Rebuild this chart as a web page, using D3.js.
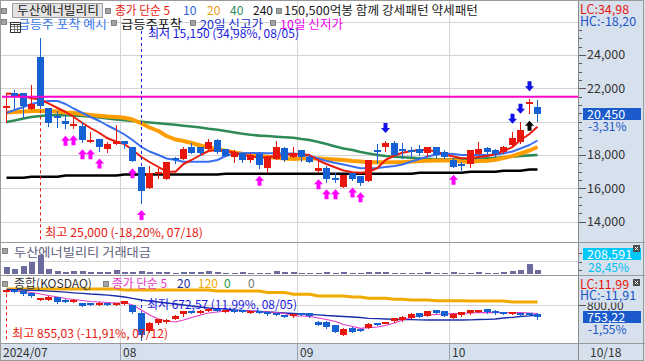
<!DOCTYPE html>
<html><head><meta charset="utf-8">
<script src="https://cdn.jsdelivr.net/npm/d3@7/dist/d3.min.js"></script>
<style>
html,body{margin:0;padding:0;background:#fff;}
svg{display:block;}
text{font-family:"Noto Sans CJK KR","Noto Sans",sans-serif;}
</style></head><body>
<svg id="chart" width="645" height="361"></svg>
<script>
// ---------------- DATA ----------------
const dates = ["07/12","07/15","07/16","07/17","07/18","07/19","07/22","07/23","07/24","07/25","07/26","07/29","07/30","07/31",
"08/01","08/02","08/05","08/06","08/07","08/08","08/09","08/12","08/13","08/14","08/16","08/19","08/20","08/21","08/22","08/23","08/26","08/27","08/28","08/29","08/30",
"09/02","09/03","09/04","09/05","09/06","09/09","09/10","09/11","09/12","09/13","09/19","09/20","09/23","09/24","09/25","09/26","09/27","09/30",
"10/02","10/04","10/07","10/08","10/10","10/11","10/14","10/15","10/16","10/17","10/18"];

const openP = [20840,21700,21700,20780,23860,20800,20360,20040,19760,19740,
18800,18960,18360,18640,18840,18500,17260,16000,16850,16560,
17760,17760,18500,18500,18380,18900,18360,17860,18100,17700,
18060,17240,17760,18400,17900,18300,17900,17060,17200,16580,
16100,16940,16740,16460,18260,18500,18700,18300,18240,18360,
18140,18460,18200,17700,17420,17460,18060,18400,18300,18160,
18600,18800,21100,20860];
const highP = [21700,21900,21750,22200,25000,20850,20650,20400,20240,20000,
19360,18960,18800,19800,18840,18500,17260,17340,17200,17600,
17900,18480,18740,18500,18960,18960,18360,18300,18100,18100,
18060,17900,18860,18500,18500,18300,18000,17740,17340,16900,
16800,16940,16740,17700,18660,18840,18840,18740,18480,18600,
18460,18500,18300,17800,17600,18300,18800,18460,18340,18540,
19400,20000,21340,21300];
const lowP = [19960,20800,20300,20780,20800,19750,19700,19600,19640,18800,
18800,18240,18160,18640,18400,17660,15150,16000,16600,16560,
17500,17760,18100,18000,18380,18150,17960,17600,17560,17560,
17200,17000,17760,17660,17900,17660,17600,17000,16400,16400,
16100,16500,16220,16460,17540,18260,18000,17800,17860,18000,
17960,17900,17800,17260,17100,17260,18060,18100,17960,18140,
18600,18740,20540,20060];
const closeP = [20880,21500,20960,21050,20960,19900,20200,19880,19880,18900,
18900,18500,18640,18840,18640,17660,15860,16900,16900,17600,
17740,18360,18140,18140,18800,18200,17960,18100,17700,18000,
17400,17900,18460,17700,18140,17860,17600,17240,16560,16540,
16800,16540,16340,17700,18200,18740,18000,18260,18200,18100,
18460,18000,17900,17300,17400,18300,18340,18180,18060,18460,
19040,19500,21150,20450];

const ma5 = [21692,21662,21542,21404,21332,21104,20822,20582,20300,19922,
19622,19322,19004,18800,18662,18302,17882,17582,17282,17000,
17000,17462,17702,18002,18242,18302,18242,18152,18002,17942,
17822,17882,17942,18002,18044,18044,18002,17672,17462,17252,
17072,16964,16940,16982,17222,17702,17972,18140,18242,18302,
18302,18212,18032,17912,17804,17822,17882,17942,18062,18242,
18482,18902,19262,19700];
const ma10 = [20522,20702,20882,21062,21182,21242,21242,21062,20792,20522,
20282,20042,19772,19502,19232,18902,18482,18212,18002,17792,
17702,17600,17600,17600,17600,17702,17942,18092,18104,18122,
18122,18104,18104,18092,18092,18032,17942,17792,17642,17522,
17432,17312,17204,17204,17222,17282,17342,17432,17612,17762,
17912,18032,18092,18062,18002,18002,18002,18002,18032,18092,
18212,18392,18602,18872];
const ma20 = [20552,20582,20612,20642,20642,20642,20612,20552,20522,20462,
20402,20360,20312,20282,20240,20132,19892,19652,19442,19142,
18932,18842,18722,18572,18452,18344,18254,18152,18074,18014,
17954,17894,17834,17792,17762,17792,17792,17792,17762,17732,
17702,17642,17612,17564,17564,17564,17564,17564,17612,17642,
17660,17672,17684,17672,17612,17600,17642,17660,17714,17822,
17942,18092,18272,18482];
const ma40 = [19982,20072,20192,20282,20342,20384,20402,20390,20372,20342,
20294,20252,20192,20132,20084,20042,20000,19952,19904,19862,
19814,19760,19712,19652,19580,19514,19442,19352,19280,19214,
19166,19142,19100,19064,19034,18962,18902,18782,18662,18512,
18392,18302,18182,18092,18002,17942,17900,17870,17834,17804,
17774,17750,17744,17744,17744,17750,17774,17804,17834,17870,
17900,17942,17978,18002];
const ma240 = [16634,16634,16634,16694,16694,16694,16694,16772,16772,16772,
16772,16772,16772,16772,16832,16832,16832,16832,16832,16832,
16832,16832,16832,16832,16832,16832,16874,16874,16874,16874,
16874,16874,16874,16874,16874,16874,16874,16874,16874,16874,
16874,16874,16874,16874,16874,16874,16874,16874,16874,16940,
16940,16940,16940,16940,16940,17000,17000,17000,17000,17060,
17060,17060,17132,17132];
const resistanceLevel = 21500;

const tradeValue = [333000,252000,366000,571000,890000,252000,143000,95000,128000,128000,
81000,81000,81000,176000,95000,95000,128000,110000,95000,95000,
70000,81000,95000,81000,128000,81000,62000,62000,81000,62000,
62000,62000,128000,95000,81000,62000,62000,70000,81000,62000,
81000,70000,62000,95000,81000,81000,62000,62000,62000,70000,
81000,70000,62000,81000,62000,62000,81000,70000,62000,81000,
128000,205000,462000,208591];

const kOpen = [847,850,848,842,820,818,826,818,810,805,
802,798,803,800,803,797,770,704,731,735,
749,764,772,770,778,784,774,777,779,770,
775,769,768,758,757,765,770,738,738,725,
690,716,708,716,729,733,740,743,752,769,
759,779,776,752,761,768,776,783,778,769,
770,768,766,767];
const kHigh = [855.03,852,850,844,823,830,828,820,820,806,
804,808,805,803,814,799,772,736,749,747,
762,776,776,780,786,786,780,779,780,777,
776,770,769,760,767,767,771,740,739,726,
714,717,711,731,732,737,751,757,768,770,
777,781,777,768,774,782,779,784,779,771,
773,770,768,768];
const kLow = [845,846,836,828,816,816,806,808,808,794,
799,797,800,798,801,771,672.57,700,729,732,
747,760,768,768,776,776,772,774,772,768,
768,762,761,754,755,762,756,725,716,699,
688,699,704,714,726,731,738,741,750,753,
757,768,757,750,759,766,774,771,767,766,
767,760,763,748];
const kClose = [850,848,838,830,821,828,808,810,818,795,
801,806,802,801,813,773,689,734,747,745,
760,775,770,778,784,778,779,776,774,775,
770,764,763,757,766,764,757,727,719,701,
712,701,707,730,728,734,750,756,767,755,
776,770,759,767,773,781,777,772,768,768,
771,761,765.08,753.22];
const kMa5 = [851.4,849.6,847.7,844.1,838.6,833.1,827.7,822.2,818.5,814.9,
811.2,809.4,807.6,805.8,807.6,798.5,780.2,762.0,747.4,740.1,
736.4,743.7,752.9,762.0,769.3,772.9,776.6,778.4,778.4,776.6,
774.7,772.9,771.1,767.5,758.3,758.3,757.2,751.0,745.6,738.3,
727.3,720.0,713.4,715.6,718.2,723.7,732.8,743.7,752.9,758.3,
762.0,763.8,765.6,766.7,767.5,769.3,770.4,770.4,770.4,770.4,
770.4,770.4,769.3,767.5];
const kMa20 = [855.0,854.3,853.2,852.1,850.7,848.8,847.0,845.2,843.0,841.2,
838.6,836.8,834.2,831.3,827.7,822.9,816.7,812.3,809.4,805.8,
802.1,798.5,794.8,791.2,787.5,785.0,783.1,781.0,779.1,776.6,
774.7,772.9,771.1,769.3,767.5,765.6,764.5,762.7,760.1,758.3,
756.5,754.7,752.9,749.9,748.4,747.4,746.3,745.6,744.8,744.5,
743.7,743.7,743.7,743.7,743.7,744.5,745.6,746.3,747.4,751.0,
753.6,756.5,759.0,762.0];
const kMa120 = [856.9,856.9,856.9,856.9,856.9,856.9,856.9,856.9,856.9,856.9,
856.9,856.9,856.9,856.9,853.2,853.2,853.2,853.2,853.2,853.2,
853.2,853.2,853.2,853.2,853.2,849.6,849.6,849.6,849.6,849.6,
849.6,844.1,844.1,844.1,837.5,837.5,837.5,831.3,831.3,831.3,
831.3,827.7,827.7,822.9,822.9,822.9,819.3,819.3,816.7,816.7,
816.7,814.2,814.2,814.2,814.2,813.1,813.1,813.1,813.1,813.1,
809.4,809.4,809.4,809.4];

const pinkUpDates = ["07/23","07/24","07/25","07/26","07/29","08/02","08/05","08/26","09/04","09/05","09/06","09/10","09/11","10/02"];
const blueDownDates = ["09/19","10/15","10/16","10/17"];
const blackUpDates = ["10/17"];

const monthStarts = ["08/01","09/02","10/02"];
const monthLabels = ["08","09","10"];
const firstLabel = "2024/07";
const lastDateLabel = "10/18";

const priceGrid = [14000,16000,18000,20000,22000,24000,26000];
const priceLabels = [14000,16000,18000,22000,24000];
const volGrid = [600000];
const kGrid = [800];
const kLabels = [800];
const volChangeText = "28,45%";

// ---------------- SETUP ----------------
const svg = d3.select("#chart");
const W = 645, H = 361, PR = 578;
const P_BOT = 242, V_BOT = 275, K_BOT = 343;
const RED = "#e8170d", BLUE = "#1560d2";
const FONT = 12;

const x = d3.scaleBand().domain(dates).range([1.8, 541.3]);
const cx = d => Math.round(x(d) + x.bandwidth() / 2);
const yP = d3.scaleLinear().domain([14000, 26000]).range([221.7, 21.7]);
const yV = d3.scaleLinear().domain([0, 1000000]).range([274, 253]);
const yK = d3.scaleLinear().domain([672.57, 855.03]).range([339.5, 289.5]);

const comma = v => v.toFixed(2).replace(".", ",");

svg.append("rect").attr("width", W).attr("height", H).attr("fill", "#fff");
svg.append("rect").attr("x", PR).attr("y", 0).attr("width", W - PR).attr("height", H).attr("fill", "#d7e1ee");
svg.append("rect").attr("x", 0).attr("y", K_BOT).attr("width", PR).attr("height", H - K_BOT).attr("fill", "#d7e1ee");

const grid = svg.append("g").attr("shape-rendering", "crispEdges");
priceGrid.forEach(v => grid.append("line").attr("x1", 1).attr("x2", PR).attr("y1", Math.round(yP(v)) + 0.5).attr("y2", Math.round(yP(v)) + 0.5).attr("stroke", "#d4d4d4"));
volGrid.forEach(v => grid.append("line").attr("x1", 1).attr("x2", PR).attr("y1", Math.round(yV(v)) + 0.5).attr("y2", Math.round(yV(v)) + 0.5).attr("stroke", "#d4d4d4"));
kGrid.forEach(v => grid.append("line").attr("x1", 1).attr("x2", PR).attr("y1", Math.round(yK(v)) + 0.5).attr("y2", Math.round(yK(v)) + 0.5).attr("stroke", "#d4d4d4"));
monthStarts.forEach(d => {
  const xx = Math.round(x(d)) + 0.5;
  grid.append("line").attr("x1", xx).attr("x2", xx).attr("y1", 0).attr("y2", K_BOT).attr("stroke", "#d4d4d4");
  grid.append("line").attr("x1", xx).attr("x2", xx).attr("y1", K_BOT).attr("y2", H).attr("stroke", "#9aa3b0");
});

// ---------------- helpers ----------------
function txt(g, xx, yy, s, color, opts = {}) {
  const t = g.append("text").attr("x", xx).attr("y", yy).attr("fill", color)
    .attr("font-size", opts.size || FONT).text(s);
  if (opts.len) t.attr("textLength", opts.len).attr("lengthAdjust", "spacingAndGlyphs");
  if (opts.anchor) t.attr("text-anchor", opts.anchor);
  if (opts.dy) t.attr("dy", opts.dy);
  return t;
}
function icon(g, xx, yy) {
  g.append("rect").attr("x", xx + 0.5).attr("y", yy + 0.5).attr("width", 5).attr("height", 5)
    .attr("fill", "#a3a3a3").attr("stroke", "#6f6f6f").attr("stroke-width", 0.8);
}
function candles(g, O, Hh, L, C, y, bw) {
  dates.forEach((d, i) => {
    const up = C[i] >= O[i];
    const col = up ? RED : BLUE;
    const xc = cx(d);
    g.append("line").attr("x1", xc + 0.5).attr("x2", xc + 0.5)
      .attr("y1", Math.round(y(Hh[i]))).attr("y2", Math.round(y(L[i])) + 1)
      .attr("stroke", col).attr("stroke-width", 1);
    const y1 = Math.round(y(Math.max(O[i], C[i])));
    const y2 = Math.round(y(Math.min(O[i], C[i])));
    const h = Math.max(y2 - y1, 2);
    g.append("rect").attr("x", xc - (bw - 1) / 2).attr("y", y2 - y1 < 2 ? y1 - 1 : y1)
      .attr("width", bw).attr("height", h).attr("fill", col);
  });
}
function upArrow(xc, yc) {
  return `M${xc},${yc - 5}L${xc + 4.5},${yc}L${xc + 2},${yc}L${xc + 2},${yc + 5}L${xc - 2},${yc + 5}L${xc - 2},${yc}L${xc - 4.5},${yc}Z`;
}
function downArrow(xc, yc) {
  return `M${xc},${yc + 5}L${xc + 4.5},${yc}L${xc + 2},${yc}L${xc + 2},${yc - 5}L${xc - 2},${yc - 5}L${xc - 2},${yc}L${xc - 4.5},${yc}Z`;
}

// ---------------- MAIN PANEL ----------------
const main = svg.append("g");
const line = (arr, y) => d3.line().x((v, i) => cx(dates[i]) + 0.5).y(v => y(v))(arr);
const maSpecs = [
  [ma240, "#000000", 2.6],
  [ma40, "#2e8b57", 2.6],
  [ma20, "#ff9d00", 4],
  [ma10, "#3a6ff2", 2],
  [ma5, "#ea1a0c", 2]
];
maSpecs.forEach(([arr, c, w]) => main.append("path").attr("d", line(arr, yP)).attr("fill", "none")
  .attr("stroke", c).attr("stroke-width", w).attr("stroke-linejoin", "round"));

const cg = main.append("g").attr("shape-rendering", "crispEdges");
candles(cg, openP, highP, lowP, closeP, yP, 7);

main.append("line").attr("x1", 2).attr("x2", PR).attr("y1", yP(resistanceLevel)).attr("y2", yP(resistanceLevel))
  .attr("stroke", "#ff00cc").attr("stroke-width", 2);

pinkUpDates.forEach(d => { const i = dates.indexOf(d); main.append("path").attr("d", upArrow(cx(d) + 0.5, yP(lowP[i]) + 12.5)).attr("fill", "#ff00ff"); });
blackUpDates.forEach(d => { const i = dates.indexOf(d); main.append("path").attr("d", upArrow(cx(d) + 0.5, yP(lowP[i]) + 13)).attr("fill", "#000"); });
blueDownDates.forEach(d => { const i = dates.indexOf(d); main.append("path").attr("d", downArrow(cx(d) + 0.5, yP(highP[i]) - 13)).attr("fill", "#1010e8"); });

const iHi = highP.indexOf(d3.max(highP)), iLo = lowP.indexOf(d3.min(lowP));
const lastP = closeP[closeP.length - 1];
main.append("line").attr("x1", cx(dates[iHi]) + 0.5).attr("x2", cx(dates[iHi]) + 0.5)
  .attr("y1", yP(lowP[iHi]) + 2).attr("y2", P_BOT).attr("stroke", "#e8170d").attr("stroke-dasharray", "3,3");
main.append("line").attr("x1", cx(dates[iLo]) + 0.5).attr("x2", cx(dates[iLo]) + 0.5)
  .attr("y1", 31).attr("y2", yP(openP[iLo]) - 1).attr("stroke", "#1a1ae0").attr("stroke-dasharray", "3,3");
txt(main, cx(dates[iHi]) + 5, 237, `최고 ${d3.format(",")(highP[iHi])} (${comma((lastP / highP[iHi] - 1) * 100)}%, ${dates[iHi]})`, "#e8170d", { len: 158 });
txt(main, cx(dates[iLo]) + 7, 38, `최저 ${d3.format(",")(lowP[iLo])} (${comma((lastP / lowP[iLo] - 1) * 100)}%, ${dates[iLo]})`, "#1a1ae0", { len: 151 });

// ---------------- LEGEND ----------------
const lg = svg.append("g");
icon(lg, 1, 8);
lg.append("rect").attr("x", 12.5).attr("y", 3.5).attr("width", 90).attr("height", 14).attr("fill", "#e3e3e3").attr("stroke", "#a0a0a0");
txt(lg, 17, 15, "두산에너빌리티", "#222", { len: 82 });
icon(lg, 105, 8);
txt(lg, 115, 15, "종가 단순 5", "#e8170d", { len: 55 });
txt(lg, 183, 15, "10", "#2a63dc");
txt(lg, 207, 15, "20", "#f09a18");
txt(lg, 230, 15, "40", "#2e8b57");
txt(lg, 253, 15, "240", "#111");
icon(lg, 276, 8);
txt(lg, 284, 15, "150,500억봉 함께 강세패턴  약세패턴", "#222", { len: 194 });

icon(lg, 1, 19);
txt(lg, 18, 28.5, "급등주 포착 예시", "#3a78e8", { len: 89 });
const gi = lg.append("g").attr("shape-rendering", "crispEdges");
gi.append("rect").attr("x", 10.5).attr("y", 22.5).attr("width", 10).attr("height", 10).attr("fill", "#fff").attr("stroke", "#333");
[13.5, 16.5].forEach(v => gi.append("line").attr("x1", v + 0.5).attr("x2", v + 0.5).attr("y1", 25).attr("y2", 32).attr("stroke", "#777"));
[25.5, 28.5].forEach(v => gi.append("line").attr("x1", 11).attr("x2", 20).attr("y1", v + 0.5).attr("y2", v + 0.5).attr("stroke", "#777"));
gi.append("line").attr("x1", 11).attr("x2", 20).attr("y1", 24.5).attr("y2", 24.5).attr("stroke", "#333");
icon(lg, 111, 20);
txt(lg, 121, 28.5, "급등주포착", "#111", { len: 61 });
icon(lg, 190, 20);
txt(lg, 200, 28.5, "20일 신고가", "#2030cc", { len: 63 });
icon(lg, 270, 20);
txt(lg, 280, 28.5, "10일 신저가", "#ee00ee", { len: 63 });

// ---------------- VOLUME PANEL ----------------
const vg = svg.append("g");
icon(vg, 2, 248);
txt(vg, 14, 257, "두산에너빌리티 거래대금", "#5e5e7e", { len: 137 });
const vb = vg.append("g").attr("shape-rendering", "crispEdges");
dates.forEach((d, i) => {
  const yy = Math.round(yV(tradeValue[i]));
  vb.append("rect").attr("x", cx(d) - 2.5).attr("y", yy).attr("width", 6).attr("height", Math.max(yV(0) - yy, 1)).attr("fill", "#6b6b9d");
});

// ---------------- KOSDAQ PANEL ----------------
const kg = svg.append("g");
kg.append("path").attr("d", line(kMa120, yK)).attr("fill", "none").attr("stroke", "#f0aa00").attr("stroke-width", 3);
kg.append("path").attr("d", line(kMa20, yK)).attr("fill", "none").attr("stroke", "#1a2ea8").attr("stroke-width", 1.3);
kg.append("path").attr("d", line(kMa5, yK)).attr("fill", "none").attr("stroke", "#e23cc6").attr("stroke-width", 1.2);
const kcg = kg.append("g").attr("shape-rendering", "crispEdges");
candles(kcg, kOpen, kHigh, kLow, kClose, yK, 7);
const kiHi = kHigh.indexOf(d3.max(kHigh)), kiLo = kLow.indexOf(d3.min(kLow));
const kLast = kClose[kClose.length - 1];
kg.append("line").attr("x1", cx(dates[kiHi]) + 0.5).attr("x2", cx(dates[kiHi]) + 0.5)
  .attr("y1", yK(kLow[kiHi]) + 2).attr("y2", K_BOT - 1).attr("stroke", "#e8170d").attr("stroke-dasharray", "3,3");
kg.append("line").attr("x1", cx(dates[kiLo]) + 0.5).attr("x2", cx(dates[kiLo]) + 0.5)
  .attr("y1", 299).attr("y2", yK(kOpen[kiLo]) - 1).attr("stroke", "#1a1ae0").attr("stroke-dasharray", "3,3");
txt(kg, cx(dates[kiLo]) + 6, 309, `최저 ${comma(kLow[kiLo])} (${comma((kLast / kLow[kiLo] - 1) * 100)}%, ${dates[kiLo]})`, "#1a1ae0", { len: 150 });
txt(kg, cx(dates[kiHi]) + 6, 338, `최고 ${comma(kHigh[kiHi])} (${comma((kLast / kHigh[kiHi] - 1) * 100)}%, ${dates[kiHi]})`, "#e8170d", { len: 156 });
icon(kg, 2, 281);
txt(kg, 14, 288, "종합(KOSDAQ)", "#333");
icon(kg, 103, 281);
txt(kg, 112, 288, "종가 단순 5", "#e23cc6", { len: 55 });
txt(kg, 177, 288, "20", "#1a2ea8");
txt(kg, 198, 288, "120", "#f0aa00");
txt(kg, 224, 288, "0", "#1a9a40");
txt(kg, 248, 288, "0", "#777");

// ---------------- DATE AXIS ----------------
const dg = svg.append("g");
txt(dg, 3, 357, firstLabel, "#333");
monthStarts.forEach((d, i) => txt(dg, Math.round(x(d)) + 3, 357, monthLabels[i], "#333"));
txt(dg, 590, 357, lastDateLabel, "#333");

// ---------------- RIGHT AXIS ----------------
const ra = svg.append("g");
const ticksG = ra.append("g").attr("shape-rendering", "crispEdges");
yP.ticks(24).forEach(v => {
  const yy = Math.round(yP(v)) + 0.5;
  if (yy < 30 || yy > 238) return;
  const major = priceLabels.includes(v);
  ticksG.append("line").attr("x1", 579).attr("x2", major ? 586 : 582).attr("y1", yy).attr("y2", yy).attr("stroke", "#555");
});
priceLabels.forEach(v => txt(ra, 587, yP(v), d3.format(",")(v), "#333", { dy: "0.35em", size: 12.5 }));
const lowMain = d3.min(lowP), highMain = d3.max(highP);
txt(ra, 580, 13.5, `LC:${comma((lastP / lowMain - 1) * 100)}`, "#e8170d", { size: 12.5 });
txt(ra, 580, 26, `HC:${comma((lastP / highMain - 1) * 100)}`, "#1a55c8", { size: 12.5 });
ra.append("rect").attr("x", 583).attr("y", Math.round(yP(lastP)) - 6).attr("width", 58).attr("height", 12).attr("fill", "#1a5acb");
txt(ra, 587, Math.round(yP(lastP)) + 5, d3.format(",")(lastP), "#fff", { size: 12.5 });
txt(ra, 588, 131, `${comma((lastP / closeP[closeP.length - 2] - 1) * 100)}%`, "#1a55c8", { size: 12 });

[253, 262, 270].forEach(yy => ticksG.append("line").attr("x1", 579).attr("x2", 582).attr("y1", yy + 0.5).attr("y2", yy + 0.5).attr("stroke", "#555"));
ra.append("rect").attr("x", 583).attr("y", 248).attr("width", 58).attr("height", 12).attr("fill", "#00c8f8");
txt(ra, 587, 259, d3.format(",")(tradeValue[tradeValue.length - 1]), "#fff", { size: 12.5 });
txt(ra, 588, 271.5, volChangeText, "#00c0f0", { size: 12 });

// kosdaq axis: the 800 label is partly covered by the LC/HC block, as in the source
const clip = svg.append("defs").append("clipPath").attr("id", "kclip");
clip.append("rect").attr("x", 579).attr("y", 302.5).attr("width", 62).attr("height", 10);
kLabels.forEach(v => {
  ticksG.append("line").attr("x1", 579).attr("x2", 586).attr("y1", Math.round(yK(v)) + 0.5).attr("y2", Math.round(yK(v)) + 0.5).attr("stroke", "#555");
  txt(ra, 587, yK(v) + 1, comma(v), "#333", { dy: "0.35em", size: 12 }).attr("clip-path", "url(#kclip)");
});
txt(ra, 580, 288.5, `LC:${comma((kLast / d3.min(kLow) - 1) * 100)}`, "#e8170d", { size: 12.5 });
txt(ra, 580, 300, `HC:${comma((kLast / d3.max(kHigh) - 1) * 100)}`, "#1a55c8", { size: 12.5 });
ra.append("rect").attr("x", 583).attr("y", Math.round(yK(kLast)) - 6).attr("width", 58).attr("height", 12).attr("fill", "#1a5acb");
txt(ra, 587, Math.round(yK(kLast)) + 5, comma(kLast), "#fff", { size: 12.5 });
txt(ra, 588, 333.5, `${comma((kLast / kClose[kClose.length - 2] - 1) * 100)}%`, "#1a55c8", { size: 12 });

[245, 279].forEach(yy => {
  ra.append("rect").attr("x", 633).attr("y", yy).attr("width", 7).attr("height", 7).attr("fill", "#4a4a4a");
  ra.append("path").attr("d", `M634.8,${yy + 1.8}L638.2,${yy + 5.2}M638.2,${yy + 1.8}L634.8,${yy + 5.2}`).attr("stroke", "#fff").attr("stroke-width", 1);
});

// ---------------- BORDERS ----------------
const bg = svg.append("g").attr("shape-rendering", "crispEdges");
[P_BOT, V_BOT, K_BOT].forEach(yy => bg.append("line").attr("x1", 0).attr("x2", W).attr("y1", yy + 0.5).attr("y2", yy + 0.5).attr("stroke", "#9a9a9a"));
bg.append("line").attr("x1", PR + 0.5).attr("x2", PR + 0.5).attr("y1", 0).attr("y2", H).attr("stroke", "#8a8a8a");
bg.append("rect").attr("x", 0.5).attr("y", 0.5).attr("width", W - 2).attr("height", H - 1).attr("fill", "none").attr("stroke", "#9a9a9a");
</script></body></html>
